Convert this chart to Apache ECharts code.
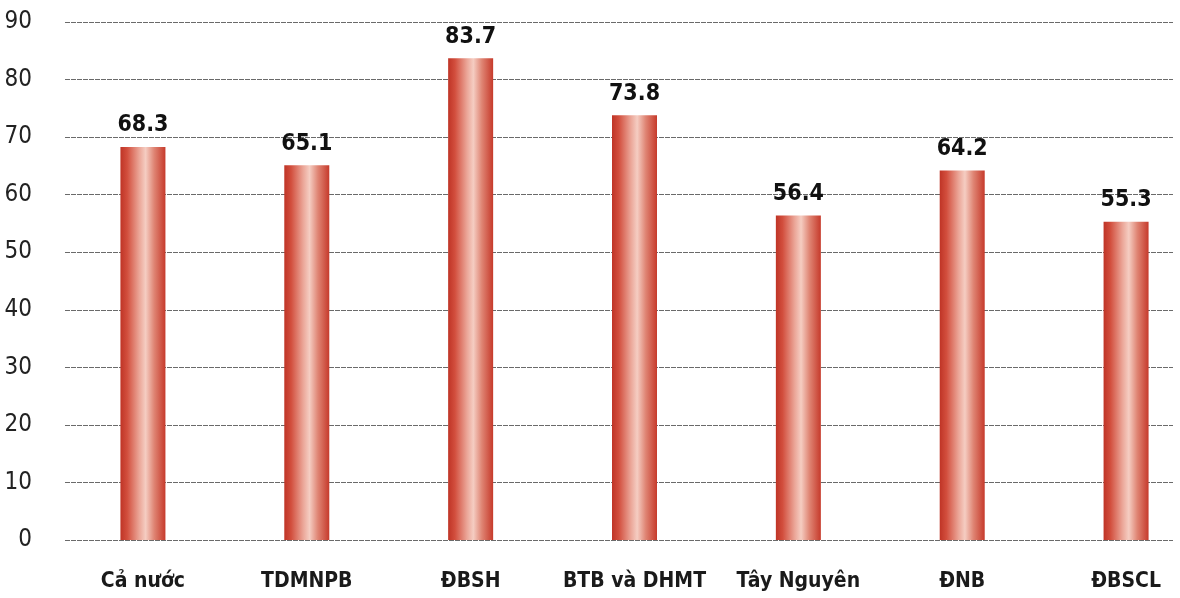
<!DOCTYPE html>
<html>
<head>
<meta charset="utf-8">
<script src="https://cdn.jsdelivr.net/npm/echarts@6/dist/echarts.min.js"></script>
<style>
  html, body { margin: 0; padding: 0; background: #fff; }
  #chart { width: 1180px; height: 598px; }
</style>
</head>
<body>
<div id="chart"></div>
<script>
var categories = ['Cả nước', 'TDMNPB', 'ĐBSH', 'BTB và DHMT', 'Tây Nguyên', 'ĐNB', 'ĐBSCL']
var values = [68.3, 65.1, 83.7, 73.8, 56.4, 64.2, 55.3]
var yTicks = { min: 0, max: 90, interval: 10 }

var FONT = '"Liberation Sans Narrow", "DejaVu Sans Condensed", "Noto Sans", sans-serif'

var barColor = new echarts.graphic.LinearGradient(0, 0, 1, 0, [
  { offset: 0, color: '#bf3426' },
  { offset: 0.15, color: '#d24e3d' },
  { offset: 0.42, color: '#eba698' },
  { offset: 0.56, color: '#f5cdc2' },
  { offset: 0.75, color: '#df8473' },
  { offset: 1, color: '#c63a2b' }
])

var chart = echarts.init(document.getElementById('chart'))
chart.setOption({
  animation: false,
  backgroundColor: '#fff',
  grid: [
    // gridlines + y labels
    { left: 65, right: 7, top: 22, bottom: 58, outerBoundsMode: 'none' },
    // bars + category labels (wider band spacing than the gridlines)
    { left: 61, width: 1147, top: 22, bottom: 58, outerBoundsMode: 'none' }
  ],
  xAxis: [
    { gridIndex: 0, type: 'category', data: categories, show: false },
    {
      gridIndex: 1,
      type: 'category',
      data: categories,
      axisLine: { show: false },
      axisTick: { show: false },
      axisLabel: {
        interval: 0,
        hideOverlap: false,
        margin: 31,
        color: '#1a1a1a',
        fontFamily: FONT,
        fontWeight: 'bold',
        fontSize: 21
      }
    }
  ],
  yAxis: [
    {
      gridIndex: 0,
      type: 'value',
      min: yTicks.min,
      max: yTicks.max,
      interval: yTicks.interval,
      axisLine: { show: false },
      axisTick: { show: false },
      axisLabel: {
        margin: 33,
        color: '#222',
        fontFamily: FONT,
        fontSize: 24
      },
      splitLine: {
        lineStyle: { color: '#6a6a6a', width: 1, type: [5, 1] }
      }
    },
    {
      gridIndex: 1,
      type: 'value',
      min: yTicks.min,
      max: yTicks.max,
      interval: yTicks.interval,
      show: false
    }
  ],
  series: [
    {
      type: 'bar',
      xAxisIndex: 1,
      yAxisIndex: 1,
      data: values,
      barWidth: 45,
      itemStyle: { color: barColor },
      label: {
        show: true,
        position: 'top',
        distance: 10,
        color: '#111',
        fontFamily: FONT,
        fontWeight: 'bold',
        fontSize: 23,
        formatter: function (p) { return p.value.toFixed(1) }
      }
    }
  ]
})
</script>
</body>
</html>
